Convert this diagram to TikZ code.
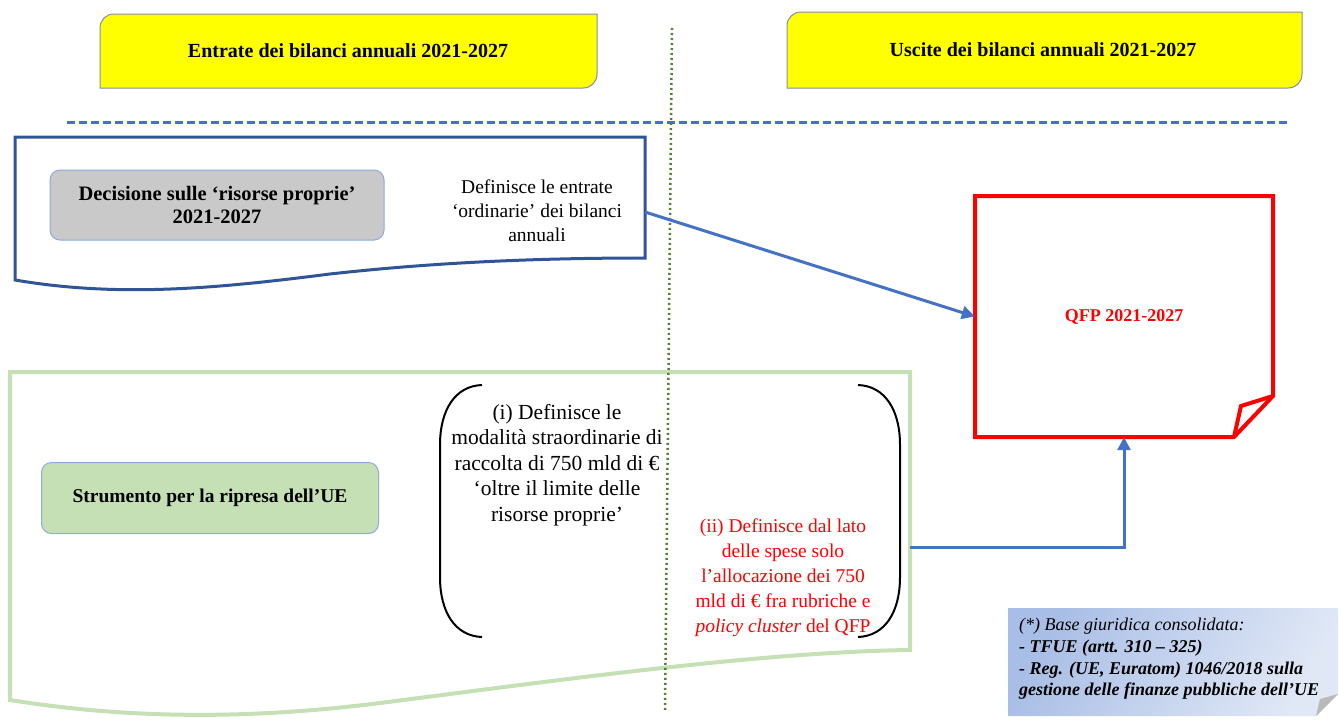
\documentclass[tikz,border=0pt]{standalone}
\usepackage{fontspec}
\setmainfont{Liberation Serif}
\usetikzlibrary{arrows.meta}
\definecolor{docblue}{HTML}{2F5597}
\definecolor{arrblue}{HTML}{4472C4}
\definecolor{lgreen}{HTML}{C5E0B4}
\definecolor{dgreen}{HTML}{548235}
\definecolor{boxbord}{HTML}{8FAADC}
\definecolor{ybord}{HTML}{7F8FA9}
\definecolor{yfill}{RGB}{255,255,0}
\definecolor{qred}{RGB}{255,0,0}
\definecolor{gfill}{HTML}{C9C9C9}
\definecolor{notelight}{HTML}{E0E8F6}
\definecolor{notedark}{HTML}{A9BEE6}
\tikzset{
  body/.style={font=\fontsize{19.5}{24}\selectfont, align=center, inner sep=0pt},
  hdr/.style={font=\fontsize{20}{22}\selectfont\bfseries, align=center, inner sep=0pt},
  rbox/.style={draw=boxbord, line width=1pt, rounded corners=10pt, align=center},
  conn/.style={draw=arrblue, line width=3pt, -{Triangle[length=13pt,width=13pt]}},
}
\begin{document}
\begin{tikzpicture}[x=1pt,y=-1pt]
\useasboundingbox (0,0) rectangle (1340,726);
% yellow header boxes
\draw[ybord, line width=1pt, fill=yfill] (597,14) -- (114,14) .. controls (106,14) and (100,20) .. (100,28) -- (100,88) -- (583,88) .. controls (591,88) and (597,82) .. (597,74) -- cycle;
\node[hdr] (hl) at (348,51) {Entrate dei bilanci annuali 2021-2027};
\draw[ybord, line width=1pt, fill=yfill] (1302,12) -- (801,12) .. controls (793,12) and (787,18) .. (787,26) -- (787,88) -- (1288,88) .. controls (1296,88) and (1302,82) .. (1302,74) -- cycle;
\node[hdr] (hr) at (1043,50) {Uscite dei bilanci annuali 2021-2027};
% dashed separator
\coordinate (dl) at (67,122);
\coordinate (dr) at (1288,122);
\draw[arrblue, line width=3pt, dash pattern=on 8pt off 4pt] (dl) -- (dr);
% document 1
\draw[docblue, line width=3pt, fill=white] (15,137) -- (645,137) -- (645,258) .. controls (520,258) and (420,264) .. (330,274) .. controls (220,288) and (120,298) .. (15,280) -- cycle;
\node[rbox, fill=gfill, minimum width=334pt, minimum height=70pt, font=\fontsize{20.5}{23}\selectfont\bfseries] (dec) at (217,205) {Decisione sulle ‘risorse proprie’\\2021-2027};
\node[body] (def) at (537,211) {Definisce le entrate\\‘ordinarie’ dei bilanci\\annuali};
\coordinate (d1e) at (645,212);
% document 2 (green)
\draw[lgreen, line width=4pt, fill=white] (10,372) -- (910,372) -- (910,650) .. controls (760,652) and (560,680) .. (380,703) .. controls (230,722) and (110,716) .. (10,700) -- cycle;
\node[rbox, fill=lgreen, minimum width=337pt, minimum height=71pt, font=\fontsize{19.5}{23}\selectfont\bfseries] (sru) at (210,498) {Strumento per la ripresa dell’UE};
% brackets
\draw[black, line width=2pt] (482,385) .. controls (455,386) and (440,410) .. (440,445) -- (440,577) .. controls (440,612) and (455,636) .. (482,637);
\draw[black, line width=2pt] (858,385) .. controls (885,386) and (900,410) .. (900,445) -- (900,577) .. controls (900,612) and (885,636) .. (858,637);
\node[body, font=\fontsize{21.5}{25.5}\selectfont] (ti) at (557,465) {(i) Definisce le\\modalità straordinarie di\\raccolta di 750 mld di €\\‘oltre il limite delle\\risorse proprie’};
\node[body, text=qred, font=\fontsize{19.5}{25}\selectfont] (tii) at (783,578) {(ii) Definisce dal lato\\delle spese solo\\l’allocazione dei 750\\mld di € fra rubriche e\\\textit{policy cluster} del QFP};
\coordinate (c2) at (910,547);
% dotted vertical line
\coordinate (vt) at (672,28);
\coordinate (vb) at (665,710);
\draw[dgreen, line width=2.5pt, dash pattern=on 2pt off 3pt] (vt) -- (vb);
% QFP box
\node[minimum width=298pt, minimum height=241pt, inner sep=0pt, font=\fontsize{18}{21}\selectfont\bfseries, text=qred] (qfp) at (1124,316.5) {QFP 2021-2027};
\draw[qred, line width=4pt, line join=miter] (1234,437) -- (975,437) -- (975,196) -- (1273,196) -- (1273,396) -- cycle;
\draw[qred, line width=4pt, line join=miter] (1234,437) -- (1241,406) -- (1273,396);
% connectors
\draw[conn] (d1e) -- (qfp.west);
\draw[conn] (c2) -| (qfp.south);
% note box
\shade[left color=notedark, right color=notelight, shading angle=60] (1008,608) -- (1338,608) -- (1338,694) -- (1316,716) -- (1008,716) -- cycle;
\fill[gray!55] (1338,694) -- (1316,716) -- (1320,699) -- cycle;
\node[font=\fontsize{18}{21.7}\selectfont\itshape, align=left, anchor=north west, inner sep=0pt] (note) at (1019,618) {(*) Base giuridica consolidata:\\\textbf{- TFUE (artt. 310 – 325)}\\\textbf{- Reg. (UE, Euratom) 1046/2018 sulla}\\\textbf{gestione delle finanze pubbliche dell’UE}};
\end{tikzpicture}
\end{document}
